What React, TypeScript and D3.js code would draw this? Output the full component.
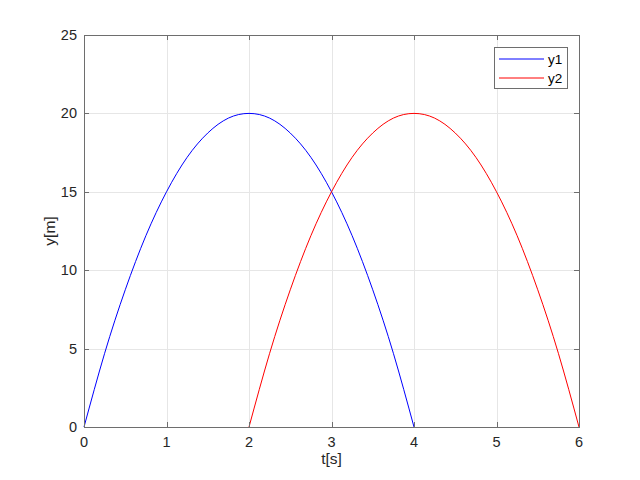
import React, { useEffect, useRef } from "react";
import * as d3 from "d3";

// values
const t1 = [0, 0.25, 0.5, 0.75, 1, 1.25, 1.5, 1.75, 2, 2.25, 2.5, 2.75, 3, 3.25, 3.5, 3.75, 4];
const y1 = [0, 4.7, 8.75, 12.2, 15, 17.2, 18.75, 19.7, 20, 19.7, 18.75, 17.2, 15, 12.2, 8.75, 4.7, 0];
const t2 = [2, 2.25, 2.5, 2.75, 3, 3.25, 3.5, 3.75, 4, 4.25, 4.5, 4.75, 5, 5.25, 5.5, 5.75, 6];
const y2 = [0, 4.7, 8.75, 12.2, 15, 17.2, 18.75, 19.7, 20, 19.7, 18.75, 17.2, 15, 12.2, 8.75, 4.7, 0];
const xTicks = [0, 1, 2, 3, 4, 5, 6];
const yTicks = [0, 5, 10, 15, 20, 25];
const seriesNames = ["y1", "y2"];
const seriesColors = ["#0000ff", "#ff0000"];

const App = () => {
  const ref = useRef<SVGSVGElement>(null);

  useEffect(() => {
    const svg = d3.select(ref.current);
    svg.selectAll("*").remove();

    const left = 84, right = 579, top = 35, bottom = 427;
    const font = "Liberation Sans, Arial, Helvetica, sans-serif";
    const textColor = "#262626";
    const axisColor = "#6e6e6e";

    const x = d3.scaleLinear().domain([0, 6]).range([left, right]);
    const y = d3.scaleLinear().domain([0, 25]).range([bottom, top]);

    svg.append("rect").attr("width", 640).attr("height", 480).attr("fill", "#fff");

    // grid
    const grid = svg.append("g").attr("stroke", "#e6e6e6").attr("stroke-width", 1);
    xTicks.forEach((d) => {
      grid.append("line")
        .attr("x1", Math.round(x(d)) + 0.5).attr("x2", Math.round(x(d)) + 0.5)
        .attr("y1", top).attr("y2", bottom);
    });
    yTicks.forEach((d) => {
      grid.append("line")
        .attr("x1", left).attr("x2", right)
        .attr("y1", Math.round(y(d)) + 0.5).attr("y2", Math.round(y(d)) + 0.5);
    });

    // lines
    const line = d3.line<[number, number]>()
      .x((d) => x(d[0]))
      .y((d) => y(d[1]))
      .curve(d3.curveNatural);

    const series: [number, number][][] = [
      t1.map((t, i) => [t, y1[i]]),
      t2.map((t, i) => [t, y2[i]]),
    ];
    series.forEach((s, i) => {
      svg.append("path")
        .attr("d", line(s))
        .attr("fill", "none")
        .attr("stroke", seriesColors[i])
        .attr("stroke-width", 1);
    });

    // box
    svg.append("rect")
      .attr("x", left + 0.5).attr("y", top + 0.5)
      .attr("width", right - left).attr("height", bottom - top)
      .attr("fill", "none").attr("stroke", axisColor).attr("stroke-width", 1);

    // ticks
    const tk = svg.append("g").attr("stroke", axisColor);
    xTicks.forEach((d) => {
      const px = Math.round(x(d)) + 0.5;
      tk.append("line").attr("x1", px).attr("x2", px).attr("y1", bottom).attr("y2", bottom - 5);
      tk.append("line").attr("x1", px).attr("x2", px).attr("y1", top).attr("y2", top + 5);
    });
    yTicks.forEach((d) => {
      const py = Math.round(y(d)) + 0.5;
      tk.append("line").attr("x1", left).attr("x2", left + 5).attr("y1", py).attr("y2", py);
      tk.append("line").attr("x1", right).attr("x2", right - 5).attr("y1", py).attr("y2", py);
    });

    // tick labels
    svg.append("g").selectAll("text").data(xTicks).enter().append("text")
      .attr("x", (d) => x(d)).attr("y", bottom + 20)
      .attr("text-anchor", "middle")
      .attr("font-family", font).attr("font-size", 14.5).attr("fill", textColor)
      .text((d) => d);
    svg.append("g").selectAll("text").data(yTicks).enter().append("text")
      .attr("x", left - 7).attr("y", (d) => y(d) + 5)
      .attr("text-anchor", "end")
      .attr("font-family", font).attr("font-size", 14.5).attr("fill", textColor)
      .text((d) => d);

    // axis labels
    svg.append("text")
      .attr("x", (left + right) / 2).attr("y", 464)
      .attr("text-anchor", "middle")
      .attr("font-family", font).attr("font-size", 15.5).attr("fill", textColor)
      .text("t[s]");
    svg.append("text")
      .attr("transform", `translate(55,${(top + bottom) / 2}) rotate(-90)`)
      .attr("text-anchor", "middle")
      .attr("font-family", font).attr("font-size", 15.5).attr("fill", textColor)
      .text("y[m]");

    // legend
    const lg = svg.append("g");
    lg.append("rect")
      .attr("x", 494.5).attr("y", 47.5).attr("width", 73).attr("height", 41)
      .attr("fill", "#fff").attr("stroke", axisColor).attr("stroke-width", 1);
    seriesNames.forEach((name, i) => {
      const ly = 59 + i * 19;
      lg.append("line")
        .attr("x1", 499).attr("x2", 544).attr("y1", ly).attr("y2", ly)
        .attr("stroke", seriesColors[i]).attr("stroke-width", 1);
      lg.append("text")
        .attr("x", 548).attr("y", ly + 5)
        .attr("font-family", font).attr("font-size", 13.5).attr("fill", "#000")
        .text(name);
    });
  }, []);

  return (
    <svg
      ref={ref}
      width={640}
      height={480}
      style={{ position: "absolute", left: 0, top: 0 }}
    ></svg>
  );
};

export default App;
